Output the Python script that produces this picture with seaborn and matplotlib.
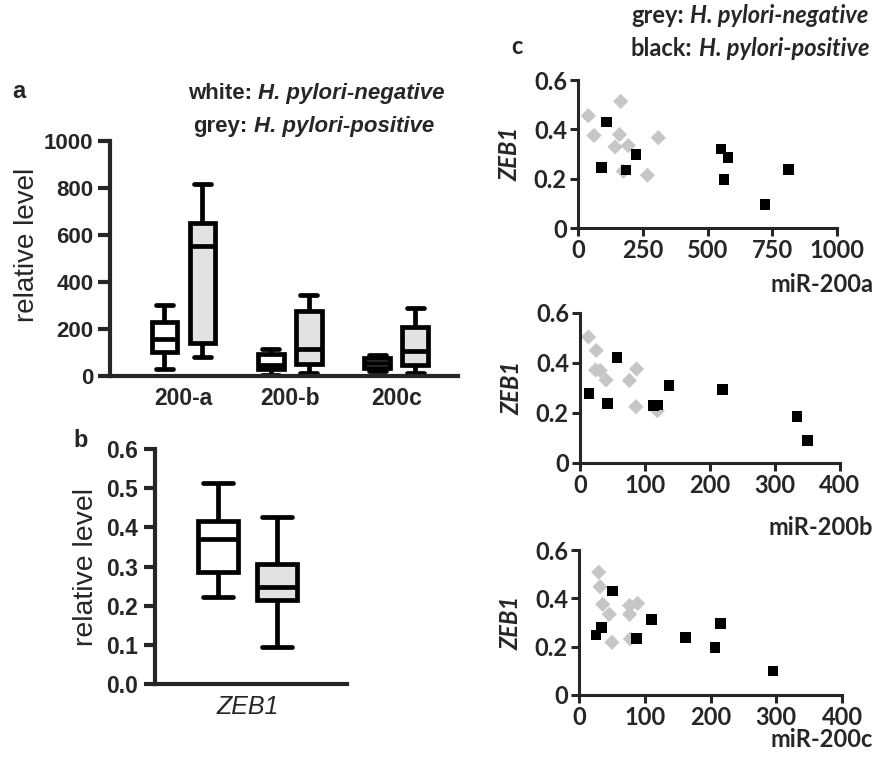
import numpy as np
import pandas as pd
import matplotlib
matplotlib.use("Agg")
import matplotlib.pyplot as plt
import seaborn as sns

# ------------------------- data -------------------------
genes = ["200-a", "200-b", "200c"]
groups = ["negative", "positive"]
# five-number summaries [min, q1, median, q3, max] (panel a)
mir_neg_200a = [28, 103, 158, 230, 302]
mir_pos_200a = [80, 142, 552, 651, 815]
mir_neg_200b = [5, 30, 45, 92, 114]
mir_pos_200b = [12, 50, 115, 278, 346]
mir_neg_200c = [22, 35, 57, 78, 88]
mir_pos_200c = [12, 45, 107, 210, 290]
# panel b
zeb_neg = [0.223, 0.287, 0.370, 0.417, 0.512]
zeb_pos = [0.095, 0.214, 0.247, 0.306, 0.427]

# panel c scatter: miR-200a
a_neg_x = [40, 62, 165, 160, 143, 194, 175, 268, 310]
a_neg_y = [0.455, 0.375, 0.513, 0.379, 0.329, 0.334, 0.230, 0.214, 0.366]
a_pos_x = [111, 91, 185, 224, 552, 579, 564, 722, 812]
a_pos_y = [0.430, 0.246, 0.235, 0.297, 0.320, 0.285, 0.196, 0.096, 0.237]
# miR-200b
b_neg_x = [13, 25, 24, 31, 40, 76, 87, 86, 119]
b_neg_y = [0.504, 0.450, 0.372, 0.370, 0.332, 0.330, 0.376, 0.225, 0.209]
b_pos_x = [14, 57, 42, 113, 120, 137, 219, 334, 350]
b_pos_y = [0.279, 0.423, 0.238, 0.229, 0.232, 0.309, 0.295, 0.187, 0.091]
# miR-200c
c_neg_x = [30, 32, 36, 46, 50, 77, 77, 89, 78]
c_neg_y = [0.508, 0.448, 0.375, 0.334, 0.218, 0.334, 0.370, 0.379, 0.232]
c_pos_x = [26, 34, 51, 88, 110, 162, 207, 215, 295]
c_pos_y = [0.248, 0.280, 0.430, 0.234, 0.313, 0.239, 0.196, 0.297, 0.099]

# ------------------------- style -------------------------
sns.set_style("ticks")
plt.rcParams["font.family"] = ["Liberation Sans", "DejaVu Sans"]

W, H = 877, 759
fig = plt.figure(figsize=(W / 100, H / 100), dpi=100)


def ax_px(left, top, right, bottom):
    return fig.add_axes([left / W, 1 - bottom / H, (right - left) / W, (bottom - top) / H])


def fx(px):
    return px / W


def fy(py):
    return 1 - py / H


BLW = 3.4   # box line width
SPW = 3.0   # spine width
box_pal = {"negative": "white", "positive": "#e2e2e2"}

# ------------------------- panel a -------------------------
ax_a = ax_px(110, 141, 458, 376)
summ = {("200-a", "negative"): mir_neg_200a, ("200-a", "positive"): mir_pos_200a,
        ("200-b", "negative"): mir_neg_200b, ("200-b", "positive"): mir_pos_200b,
        ("200c", "negative"): mir_neg_200c, ("200c", "positive"): mir_pos_200c}
rows = []
for (g, grp), vals in summ.items():
    for v in vals:
        rows.append({"gene": g, "group": grp, "value": v})
dfa = pd.DataFrame(rows)
sns.boxplot(data=dfa, x="gene", y="value", hue="group", order=genes, hue_order=groups,
            palette=box_pal, linecolor="black", linewidth=BLW, width=0.714, gap=0.32,
            whis=(0, 100), fliersize=0, saturation=1, legend=False, ax=ax_a,
            capwidths=0.16)
ax_a.set_xlim(-0.69, 2.58)
ax_a.set_ylim(0, 1000)
ax_a.set_yticks([0, 200, 400, 600, 800, 1000])
ax_a.set_xlabel("")
ax_a.set_ylabel("")
ax_a.tick_params(axis="y", length=9, width=SPW, labelsize=16, pad=3)
ax_a.tick_params(axis="x", length=0, labelsize=16.5, pad=8)
for lab in ax_a.get_xticklabels() + ax_a.get_yticklabels():
    lab.set_fontweight("bold")
for s in ["top", "right"]:
    ax_a.spines[s].set_visible(False)
for s in ["left", "bottom"]:
    ax_a.spines[s].set_linewidth(SPW)
fig.text(fx(27), fy(245), "relative level", rotation=90, ha="center", va="center", fontsize=20)

# ------------------------- panel b -------------------------
ax_b = ax_px(155, 449, 347, 684)
rows = []
for grp, vals in (("negative", zeb_neg), ("positive", zeb_pos)):
    for v in vals:
        rows.append({"gene": "ZEB1", "group": grp, "value": v})
dfb = pd.DataFrame(rows)
sns.boxplot(data=dfb, x="gene", y="value", hue="group", hue_order=groups,
            palette=box_pal, linecolor="black", linewidth=BLW, width=1.18, gap=0.32,
            whis=(0, 100), fliersize=0, saturation=1, legend=False, ax=ax_b,
            capwidths=0.30)
ax_b.set_xlim(-0.925, 0.995)
ax_b.set_ylim(0, 0.6)
ax_b.set_yticks(np.arange(0, 0.61, 0.1))
ax_b.set_yticklabels([f"{v:.1f}" for v in np.arange(0, 0.61, 0.1)])
ax_b.set_xlabel("")
ax_b.set_ylabel("")
ax_b.tick_params(axis="y", length=8, width=SPW, labelsize=16.5, pad=4)
ax_b.tick_params(axis="x", length=0, labelsize=18, pad=8)
for lab in ax_b.get_yticklabels():
    lab.set_fontweight("bold")
for lab in ax_b.get_xticklabels():
    lab.set_fontstyle("italic")
for s in ["top", "right"]:
    ax_b.spines[s].set_visible(False)
for s in ["left", "bottom"]:
    ax_b.spines[s].set_linewidth(SPW)
fig.text(fx(86), fy(567), "relative level", rotation=90, ha="center", va="center", fontsize=20.5)

# ------------------------- panel c -------------------------
CF = ["Lato", "DejaVu Sans"]
SLW = 2.2
sc_pal = {"negative": "#c6c6c6", "positive": "black"}
sc_mark = {"negative": "D", "positive": "s"}


def scatter_panel(box, xs_neg, ys_neg, xs_pos, ys_pos, xmax, xstep, xlabel, xlab_base):
    ax = ax_px(*box)
    df = pd.DataFrame({
        "mir": list(xs_neg) + list(xs_pos),
        "zeb": list(ys_neg) + list(ys_pos),
        "group": ["negative"] * len(xs_neg) + ["positive"] * len(xs_pos),
    })
    sns.scatterplot(data=df, x="mir", y="zeb", hue="group", style="group",
                    palette=sc_pal, markers=sc_mark, hue_order=groups, style_order=groups,
                    s=60, linewidth=0, legend=False, ax=ax, clip_on=False)
    ax.set_xlim(0, xmax)
    ax.set_ylim(0, 0.6)
    ax.set_xticks(np.arange(0, xmax + 1, xstep))
    ax.set_yticks([0, 0.2, 0.4, 0.6])
    ax.set_yticklabels(["0", "0.2", "0.4", "0.6"])
    ax.set_xlabel("")
    ax.set_ylabel("")
    ax.tick_params(length=6, width=SLW, labelsize=17, pad=2)
    for lab in ax.get_xticklabels() + ax.get_yticklabels():
        lab.set_family(CF)
        lab.set_fontweight("bold")
    for s in ["top", "right"]:
        ax.spines[s].set_visible(False)
    for s in ["left", "bottom"]:
        ax.spines[s].set_linewidth(SLW)
    fig.text(fx(873), fy(xlab_base), xlabel, ha="right", va="baseline", fontsize=17,
             family=CF, fontweight="bold")
    top, bottom = box[1], box[3]
    fig.text(fx(box[0] - 68), fy((top + bottom) / 2), "ZEB1", rotation=90, ha="center",
             va="center", fontsize=17, family=CF, style="italic", fontweight="bold")
    return ax


scatter_panel((578, 80, 837, 228), a_neg_x, a_neg_y, a_pos_x, a_pos_y, 1000, 250, "miR-200a", 292)
scatter_panel((580, 313, 840, 463), b_neg_x, b_neg_y, b_pos_x, b_pos_y, 400, 100, "miR-200b", 535)
scatter_panel((579, 550, 842, 695), c_neg_x, c_neg_y, c_pos_x, c_pos_y, 400, 100, "miR-200c", 747)

# ------------------------- annotation text -------------------------
renderer = fig.canvas.get_renderer()


def rich(cx, base, parts, size, family):
    texts = []
    for s, style, weight in parts:
        texts.append(fig.text(0, fy(base), s, fontsize=size, family=family, style=style,
                              fontweight=weight, ha="left", va="baseline"))
    widths = [t.get_window_extent(renderer).width for t in texts]
    gap = size * 0.28 * 100 / 72
    total = sum(widths) + gap * (len(texts) - 1)
    x0 = cx - total / 2
    for t, w in zip(texts, widths):
        t.set_x(fx(x0))
        x0 += w + gap


LF = ["Liberation Sans", "DejaVu Sans"]
rich(316, 99, [("white:", "normal", "bold"), ("H. pylori-negative", "italic", "bold")], 16, LF)
rich(314, 132, [("grey:", "normal", "bold"), ("H. pylori-positive", "italic", "bold")], 16, LF)
rich(750, 23, [("grey:", "normal", "bold"), ("H. pylori-negative", "italic", "bold")], 17, CF)
rich(750, 56, [("black:", "normal", "bold"), ("H. pylori-positive", "italic", "bold")], 17, CF)

fig.text(fx(12), fy(98), "a", fontsize=17, fontweight="bold", ha="left", va="baseline")
fig.text(fx(73), fy(447), "b", fontsize=17, fontweight="bold", ha="left", va="baseline")
fig.text(fx(511), fy(54), "c", fontsize=17, fontweight="bold", ha="left", va="baseline", family=CF)

fig.savefig("out.png", dpi=100)
